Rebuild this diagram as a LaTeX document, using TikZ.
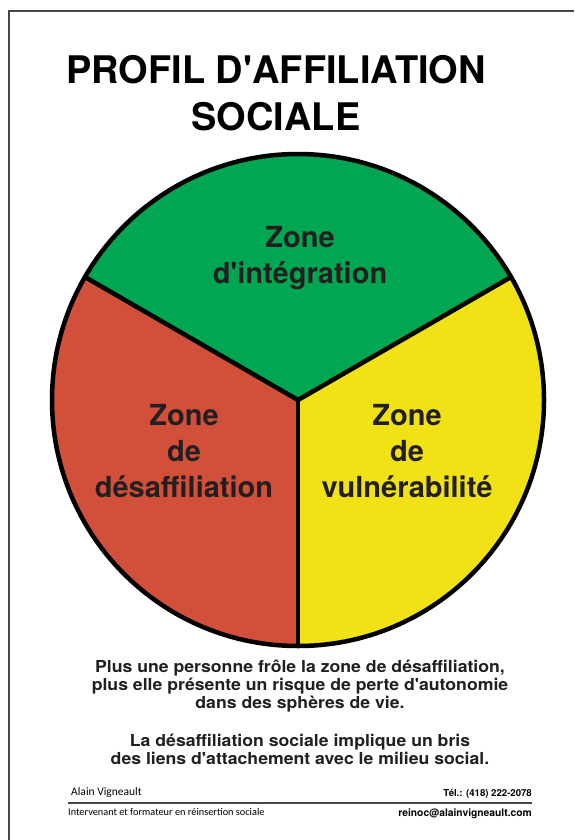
\documentclass[tikz,border=0pt]{standalone}
\usepackage{fontspec}
\setmainfont{TeX Gyre Heros}
\newfontfamily\footfont{Carlito}
\usetikzlibrary{positioning}

\definecolor{zonegreen}{RGB}{0,166,81}
\definecolor{zonered}{RGB}{210,80,58}
\definecolor{zoneyellow}{RGB}{240,226,20}
\definecolor{inkgray}{RGB}{35,31,32}
\definecolor{framegray}{RGB}{70,70,70}

% Straight apostrophe
\newcommand{\apos}{\textquotesingle}

\begin{document}
\begin{tikzpicture}[x=1pt, y=1pt,
    % Define the styles for the texts
    title/.style={font=\bfseries\fontsize{38}{47}\selectfont, text=black, align=center},
    zonetext/.style={font=\bfseries\fontsize{29}{36}\selectfont, text=inkgray, align=center},
    bodytext/.style={font=\bfseries\fontsize{16.5}{18}\selectfont, text=inkgray, align=center, xscale=1.07, transform shape}
]

% Page size
\useasboundingbox (0,0) rectangle (574,-840);

% Frame lines
\draw[framegray, line width=1.6pt] (9,-840) -- (9,-11) -- (574,-11);

% Title
\node[title] (titre) at (276,-93) {PROFIL D\apos AFFILIATION\\SOCIALE};

% Define the center of the pie
\coordinate (C) at (298,-400);

% Draw the three sectors
\fill[zonegreen] (C) -- ++(30:246) arc (30:150:246) -- cycle;
\fill[zonered] (C) -- ++(150:246) arc (150:270:246) -- cycle;
\fill[zoneyellow] (C) -- ++(270:246) arc (270:390:246) -- cycle;

% Draw the spokes and the outline
\coordinate (A) at ([shift={(30:246)}]C);
\coordinate (B) at ([shift={(150:246)}]C);
\coordinate (D) at ([shift={(270:246)}]C);
\draw[line width=4.5pt] (C) -- (A);
\draw[line width=4.5pt] (C) -- (B);
\draw[line width=4.5pt] (C) -- (D);
\draw[line width=4.5pt] (C) circle (246);

% Add the zone labels
\node[zonetext] (integration) at (300,-258) {Zone\\d\apos intégration};
\node[zonetext] (desaffiliation) at (184,-451) {Zone\\de\\désaffiliation};
\node[zonetext] (vulnerabilite) at (407,-451) {Zone\\de\\vulnérabilité};

% Text under the pie
\node[bodytext] (texte1) at (300,-686) {Plus une personne frôle la zone de désaffiliation,\\plus elle présente un risque de perte d\apos autonomie\\dans des sphères de vie.};
\node[bodytext] (texte2) at (300,-749) {La désaffiliation sociale implique un bris\\des liens d\apos attachement avec le milieu social.};

% Footer
\coordinate (L1) at (68,-803);
\coordinate (L2) at (532,-803);
\draw[framegray, line width=1.2pt] (L1) -- (L2);
\node[font=\footfont\fontsize{11.5}{13}\selectfont, anchor=base west, inner sep=0pt] (nom) at (71,-795) {Alain Vigneault};
\node[font=\footfont\fontsize{10.3}{12}\selectfont, anchor=base west, inner sep=0pt] (metier) at (68,-815) {Intervenant et formateur en réinsertion sociale};
\node[font=\bfseries\fontsize{9.6}{11}\selectfont, anchor=base east, inner sep=0pt] (tel) at (532,-796) {Tél.: (418) 222-2078};
\node[font=\bfseries\fontsize{10.3}{12}\selectfont, anchor=base east, inner sep=0pt] (courriel) at (532,-816) {reinoc@alainvigneault.com};

\end{tikzpicture}
\end{document}
